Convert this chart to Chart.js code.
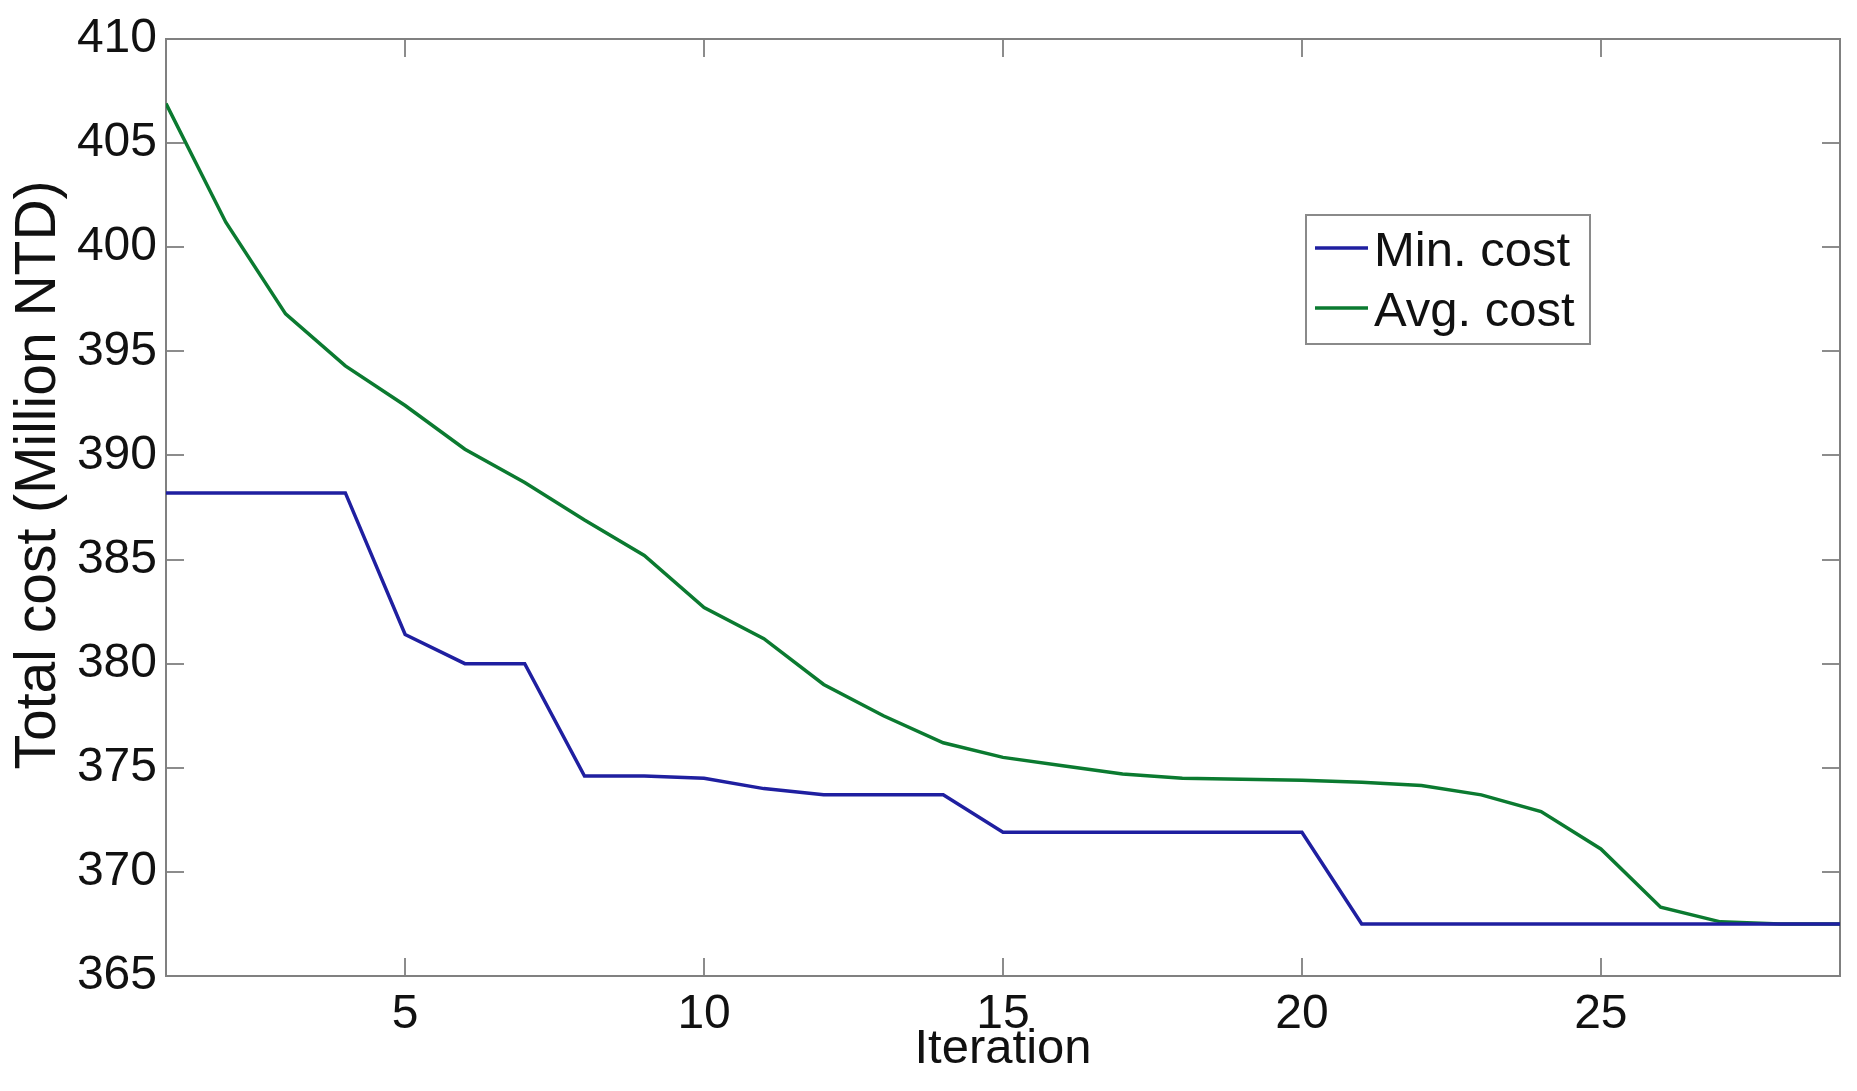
<!DOCTYPE html>
<html>
<head>
<meta charset="utf-8">
<title>Total cost per iteration</title>
<script src="https://cdn.jsdelivr.net/npm/chart.js@4.4.0/dist/chart.umd.min.js"></script>
<style>
  html, body { margin: 0; padding: 0; background: #ffffff; }
  #wrap { width: 1857px; height: 1091px; }
</style>
</head>
<body>
<div id="wrap"><canvas id="costChart" width="1857" height="1091"></canvas></div>
<script>
"use strict";

// values
var iterations = [ 1, 2, 3, 4, 5, 6, 7, 8, 9, 10, 11, 12, 13, 14, 15,
                   16, 17, 18, 19, 20, 21, 22, 23, 24, 25, 26, 27, 28, 29 ];
var minCost = [ 388.2, 388.2, 388.2, 388.2, 381.4, 380.0, 380.0, 374.6, 374.6, 374.5,
                374.0, 373.7, 373.7, 373.7, 371.9, 371.9, 371.9, 371.9, 371.9, 371.9,
                367.5, 367.5, 367.5, 367.5, 367.5, 367.5, 367.5, 367.5, 367.5 ];
var avgCost = [ 406.9, 401.2, 396.8, 394.3, 392.4, 390.3, 388.7, 386.9, 385.2, 382.7,
                381.2, 379.0, 377.5, 376.2, 375.5, 375.1, 374.7, 374.5, 374.45, 374.4,
                374.3, 374.15, 373.7, 372.9, 371.1, 368.3, 367.6, 367.5, 367.5 ];
var xTickValues = [ 5, 10, 15, 20, 25 ];
var yTickValues = [ 365, 370, 375, 380, 385, 390, 395, 400, 405, 410 ];

var FONT = "'Liberation Sans', Arial, Helvetica, sans-serif";

// MATLAB style box with inward ticks on all four sides
var matlabFrame = {
    id: "matlabFrame",
    beforeDatasetsDraw: function (chart) {
        var ctx = chart.ctx, a = chart.chartArea;
        var xs = chart.scales.x, ys = chart.scales.y;
        var len = 18;
        ctx.save();
        ctx.strokeStyle = "#8c8c8c";
        ctx.lineWidth = 2;
        ctx.beginPath();
        xTickValues.forEach(function (v) {
            var px = Math.round(xs.getPixelForValue(v));
            ctx.moveTo(px, a.bottom); ctx.lineTo(px, a.bottom - len);
            ctx.moveTo(px, a.top);    ctx.lineTo(px, a.top + len);
        });
        yTickValues.forEach(function (v) {
            var py = Math.round(ys.getPixelForValue(v));
            ctx.moveTo(a.left, py);  ctx.lineTo(a.left + len, py);
            ctx.moveTo(a.right, py); ctx.lineTo(a.right - len, py);
        });
        ctx.stroke();
        ctx.strokeStyle = "#808080";
        ctx.strokeRect(a.left, a.top, a.right - a.left, a.bottom - a.top);
        ctx.restore();
    }
};

// boxed legend inside the axes, plus the rotated y label
var boxLegend = {
    id: "boxLegend",
    afterDraw: function (chart) {
        var ctx = chart.ctx, a = chart.chartArea;
        var bx = a.left + 1140, by = a.top + 176, bw = 284, bh = 129;
        ctx.save();
        ctx.fillStyle = "#ffffff";
        ctx.fillRect(bx, by, bw, bh);
        ctx.strokeStyle = "#8a8a8a";
        ctx.lineWidth = 2;
        ctx.strokeRect(bx, by, bw, bh);
        ctx.font = "49px " + FONT;
        ctx.textBaseline = "alphabetic";
        chart.data.datasets.forEach(function (ds, i) {
            var cy = by + 33 + i * 60;
            ctx.strokeStyle = ds.borderColor;
            ctx.lineWidth = 3.5;
            ctx.beginPath();
            ctx.moveTo(bx + 9, cy);
            ctx.lineTo(bx + 62, cy);
            ctx.stroke();
            ctx.fillStyle = "#111111";
            ctx.fillText(ds.label, bx + 68, cy + 18);
        });

        ctx.font = "57px " + FONT;
        ctx.translate(39, 475);
        ctx.rotate(-Math.PI / 2);
        ctx.textAlign = "center";
        ctx.textBaseline = "middle";
        ctx.fillStyle = "#111111";
        ctx.fillText("Total cost (Million NTD)", 0, 0);
        ctx.restore();
    }
};

var ctx = document.getElementById("costChart");
new Chart(ctx, {
    type   : "line",
    data   : {
        labels  : iterations,
        datasets: [ {
            label      : "Min. cost",
            data       : minCost,
            borderColor: "#1f1fa0",
            borderWidth: 3.5,
            pointRadius: 0,
            tension    : 0,
            fill       : false
        }, {
            label      : "Avg. cost",
            data       : avgCost,
            borderColor: "#0b7a30",
            borderWidth: 3.5,
            pointRadius: 0,
            tension    : 0,
            fill       : false
        } ]
    },
    options: {
        responsive: false,
        animation : false,
        layout    : {
            padding: { top: 39, right: 17, left: 0, bottom: 0 }
        },
        plugins   : {
            legend : { display: false },
            tooltip: { enabled: false }
        },
        scales    : {
            x: {
                type   : "linear",
                min    : 1,
                max    : 29,
                grid   : { display: false, drawTicks: false },
                border : { display: false },
                ticks  : {
                    padding: 10,
                    color  : "#111111",
                    font   : { family: FONT, size: 48 }
                },
                title  : {
                    display: true,
                    text   : "Iteration",
                    color  : "#111111",
                    font   : { family: FONT, size: 49 },
                    padding: { top: 0, bottom: 12 }
                },
                afterBuildTicks: function (scale) {
                    scale.ticks = xTickValues.map(function (v) { return { value: v }; });
                },
                afterFit: function (scale) {
                    scale.height = 115;
                }
            },
            y: {
                min    : 365,
                max    : 410,
                grid   : { display: false, drawTicks: false },
                border : { display: false },
                ticks  : {
                    padding: 9,
                    color  : "#111111",
                    font   : { family: FONT, size: 48 }
                },
                afterBuildTicks: function (scale) {
                    scale.ticks = yTickValues.map(function (v) { return { value: v }; });
                },
                afterFit: function (scale) {
                    scale.width = 166;
                }
            }
        }
    },
    plugins: [ matlabFrame, boxLegend ]
});
</script>
</body>
</html>
